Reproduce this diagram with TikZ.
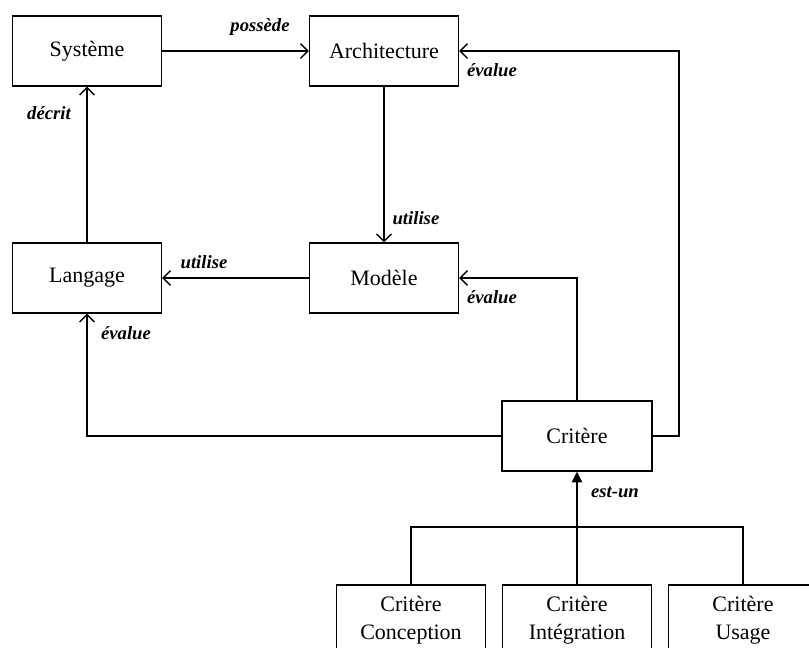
\documentclass[tikz,border=0pt]{standalone}
\usepackage{fontspec}
\setmainfont{Liberation Serif}
\usetikzlibrary{arrows.meta}

\tikzset{
  box/.style={draw, line width=0.9pt, minimum width=111.75pt, minimum height=52.5pt,
    inner sep=0pt, align=center, font=\fontsize{16.5}{21}\selectfont},
  rel/.style={font=\fontsize{14}{16}\selectfont\bfseries\itshape, inner sep=1pt},
  link/.style={line width=1.1pt, -{Straight Barb[length=5.5pt,width=11pt]}},
  isa/.style={line width=1.6pt, -{Triangle[length=8pt,width=7.5pt]}},
  plain/.style={line width=1.1pt},
}

\begin{document}
\begin{tikzpicture}[x=0.75pt,y=-0.75pt]
	\useasboundingbox (0,0) rectangle (809,648);

	% main boxes
	\node[box] (sys)  at (87,51)  {Système};
	\node[box] (arch) at (384,51) {Architecture};
	\node[box] (lang) at (87,278) {Langage};
	\node[box] (mod)  at (384,278) {Modèle};
	\node[box, minimum width=112.5pt] (crit) at (577,436) {Critère};

	% sub criteria
	\node[box] (ccon) at (411,620) {Critère\\Conception};
	\node[box] (cint) at (577,620) {Critère\\Intégration};
	\node[box] (cusa) at (743,620) {Critère\\Usage};

	% bends
	\coordinate (rbend) at (679,436);
	\coordinate (isajoin) at (577,527);

	% relations
	\draw[link] (sys) -- (arch);
	\draw[link] (lang) -- (sys);
	\draw[link] (arch) -- (mod);
	\draw[link] (mod) -- (lang);
	\draw[link] (crit) -| (lang);
	\draw[link] (crit) |- (mod);
	\draw[link] (crit) -- (rbend) |- (arch);

	% est-un
	\draw[plain] (ccon) |- (isajoin) -| (cusa);
	\draw[plain] (cint) -- (isajoin);
	\draw[isa] (isajoin) -- (crit);

	% relation labels
	\node[rel] (lpos) at (260,27) {possède};
	\node[rel] (ldec) at (49,113) {décrit};
	\node[rel, anchor=west] (luti1) at (391,218) {utilise};
	\node[rel] (luti2) at (204,262) {utilise};
	\node[rel] (leva1) at (126,333) {évalue};
	\node[rel] (leva2) at (492,297) {évalue};
	\node[rel] (leva3) at (492,70) {évalue};
	\node[rel] (lisa) at (615,492) {est-un};

\end{tikzpicture}
\end{document}
